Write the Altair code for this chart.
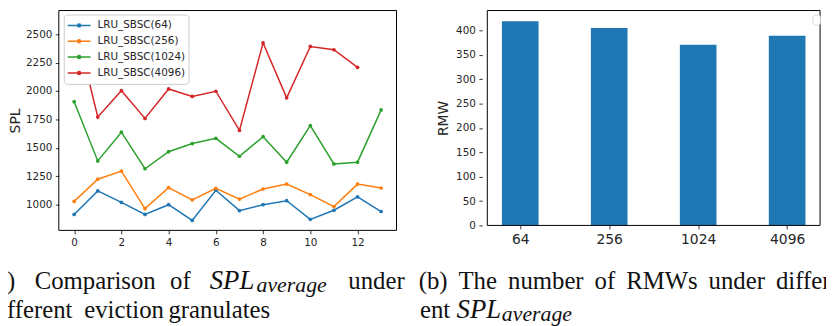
import json
import altair as alt
import pandas as pd

# ---------------- data ----------------
RUNS = list(range(14))
SERIES = ["LRU_SBSC(64)", "LRU_SBSC(256)", "LRU_SBSC(1024)", "LRU_SBSC(4096)"]
SPL_64 = [914, 1121, 1020, 914, 1000, 862, 1127, 948, 1000, 1035, 871, 951, 1069, 940]
SPL_256 = [1029, 1224, 1296, 965, 1150, 1043, 1144, 1049, 1138, 1181, 1089, 983, 1181, 1147]
SPL_1024 = [1906, 1385, 1638, 1316, 1466, 1538, 1584, 1426, 1598, 1374, 1696, 1359, 1374, 1834]
SPL_4096 = [2620, 1771, 2003, 1759, 2018, 1952, 1998, 1653, 2423, 1940, 2392, 2363, 2208]
SERIES_COLORS = ["#1f77b4", "#ff7f0e", "#2ca02c", "#d62728"]

GRANULES = ["64", "256", "1024", "4096"]
RMW = [419, 405, 371, 389]
BAR_COLOR = "#1f77b4"

SPL_TICKS = [1000, 1250, 1500, 1750, 2000, 2250, 2500]
RUN_TICKS = [0, 2, 4, 6, 8, 10, 12]
RMW_TICKS = [0, 50, 100, 150, 200, 250, 300, 350, 400]

# caption text (words), kept separate from layout
CAP_NORMAL = ["(a)", "Comparison", "of", "under", "different", "eviction", "granulates",
              "(b)", "The", "number", "of", "RMWs", "under", "differ-", "ent"]
CAP_ITALIC = ["SPL", "SPL"]
CAP_SUB = ["average", "average"]

# ---------------- layout ----------------
W, H = 773.7, 222
L_RANGE_X = [0, 341]
L_RANGE_Y = [222, 0]
R_RANGE_X = [427.7, 773.7]
R_RANGE_Y = [217, 0]
L_XDOM = [-0.65, 13.65]
L_YDOM = [774, 2708]
R_XDOM = [-0.37, 3.37]
R_YDOM = [0, 441]
L1, L2 = 281, 310.5
CAP_NORMAL_X = [-71.8, -24.3, 112.4, 292.4, -71.8, 25.7, 110.7,
                363.4, 403.6, 453.6, 541.0, 572.9, 656.1, 724.1, 364.7]
CAP_NORMAL_Y = [L1, L1, L1, L1, L2, L2, L2, L1, L1, L1, L1, L1, L1, L1, L2]
CAP_ITALIC_X = [152.4, 401.7]
CAP_ITALIC_Y = [L1, L2]
CAP_SUB_X = [199.7, 447.4]
CAP_SUB_Y = [L1 + 3.5, L2 + 3.5]

FONT = "DejaVu Sans"
SERIF = "Liberation Serif"
TXT = "#262626"

# ---------------- left panel ----------------
rows = []
for name, vals in zip(SERIES, [SPL_64, SPL_256, SPL_1024, SPL_4096]):
    for r, v in zip(RUNS, vals):
        rows.append({"run": r, "SPL": v, "series": name})
df_spl = pd.DataFrame(rows)

xl = alt.X("run:Q",
           scale=alt.Scale(domain=L_XDOM, range=L_RANGE_X, nice=False, zero=False),
           axis=alt.Axis(values=RUN_TICKS, title=None, labelFontSize=10.5, format="d",
                         orient="bottom", labelFlush=False, labelOverlap=False))
yl = alt.Y("SPL:Q",
           scale=alt.Scale(domain=L_YDOM, range=L_RANGE_Y, nice=False, zero=False),
           axis=alt.Axis(values=SPL_TICKS, title="SPL", titleFontSize=14, format="d",
                         orient="left", labelFontSize=10.5, titlePadding=2.5,
                         labelFlush=False, labelOverlap=False))

legend_symbol = "M-1,0L1,0M-0.13,0A0.13,0.13,0,1,1,0.13,0A0.13,0.13,0,1,1,-0.13,0Z"
color = alt.Color("series:N",
                  scale=alt.Scale(domain=SERIES, range=SERIES_COLORS),
                  legend=alt.Legend(orient="none", legendX=5, legendY=4, title=None,
                                    fillColor="white", strokeColor="#cccccc",
                                    cornerRadius=3, padding=3,
                                    symbolType=legend_symbol, symbolSize=529,
                                    symbolStrokeWidth=1.5, clipHeight=16,
                                    labelFont=FONT, labelFontSize=10.5,
                                    labelColor=TXT, labelOffset=6, rowPadding=0))

lines = alt.Chart(df_spl).mark_line(
    strokeWidth=1.5, point=alt.OverlayMarkDef(filled=True, size=14)
).encode(x=xl, y=yl, color=color)

frame_l = alt.Chart(pd.DataFrame({"run": [L_XDOM[0]], "run2": [L_XDOM[1]],
                                   "SPL": [L_YDOM[0]], "SPL2": [L_YDOM[1]]})).mark_rect(
    filled=False, stroke="black", strokeWidth=1
).encode(x=xl, x2="run2:Q", y=yl, y2="SPL2:Q")

left = alt.layer(lines, frame_l)

# ---------------- right panel ----------------
df_rmw = pd.DataFrame({"pos": list(range(len(GRANULES))), "RMW": RMW})
label_expr = json.dumps(GRANULES) + "[datum.value]"
xr = alt.X("pos:Q",
           scale=alt.Scale(domain=R_XDOM, range=R_RANGE_X, nice=False, zero=False),
           axis=alt.Axis(orient="bottom", values=list(range(len(GRANULES))),
                         labelExpr=label_expr, title=None, labelFontSize=14,
                         offset=-(H - R_RANGE_Y[0]), labelFlush=False,
                         labelOverlap=False))
yr = alt.Y("RMW:Q",
           scale=alt.Scale(domain=R_YDOM, range=R_RANGE_Y, nice=False, zero=False),
           axis=alt.Axis(orient="left", offset=-R_RANGE_X[0], values=RMW_TICKS,
                         title="RMW", titleFontSize=14, labelFontSize=10.5, format="d",
                         titlePadding=5.5, labelFlush=False, labelOverlap=False))

bars = alt.Chart(df_rmw).mark_bar(size=37, color=BAR_COLOR).encode(x=xr, y=yr)
frame_r = alt.Chart(pd.DataFrame({"pos": [R_XDOM[0]], "pos2": [R_XDOM[1]],
                                   "RMW": [R_YDOM[0]], "RMW2": [R_YDOM[1]]})).mark_rect(
    filled=False, stroke="black", strokeWidth=1
).encode(x=xr, x2="pos2:Q", y=yr, y2="RMW2:Q")

empty_legend = alt.Chart(pd.DataFrame({"k": [0]})).mark_rect(
    fill="white", stroke="#d0d0d0", strokeWidth=0.8, cornerRadius=2
).encode(x=alt.value(761.7), x2=alt.value(769), y=alt.value(4.7), y2=alt.value(14.7))

right = alt.layer(bars, frame_r, empty_legend)

# ---------------- captions ----------------
def cap_layer(words, xs, ys, size, style):
    d = pd.DataFrame({"w": words, "px": xs, "py": ys})
    return alt.Chart(d).mark_text(
        align="left", baseline="alphabetic", font=SERIF, fontSize=size,
        fontStyle=style, color="#111111"
    ).encode(x=alt.X("px:Q", scale=None), y=alt.Y("py:Q", scale=None), text="w:N")

captions = alt.layer(
    cap_layer(CAP_NORMAL, CAP_NORMAL_X, CAP_NORMAL_Y, 25, "normal"),
    cap_layer(CAP_ITALIC, CAP_ITALIC_X, CAP_ITALIC_Y, 27, "italic"),
    cap_layer(CAP_SUB, CAP_SUB_X, CAP_SUB_Y, 22, "italic"),
)

chart = alt.layer(left, right, captions).resolve_scale(
    x="independent", y="independent"
).properties(
    width=W, height=H,
    autosize=alt.AutoSizeParams(type="none"),
    padding={"left": 51.3, "top": 1, "right": 1, "bottom": 95},
).configure_view(stroke=None).configure_axis(
    grid=False, domain=False, labelFont=FONT, titleFont=FONT,
    labelColor=TXT, titleColor=TXT, titleFontWeight="normal",
    tickColor="black", tickWidth=0.8, tickSize=3.5, labelPadding=3.5
)

chart.save("out.html", embed_options={"renderer": "svg", "actions": False})
